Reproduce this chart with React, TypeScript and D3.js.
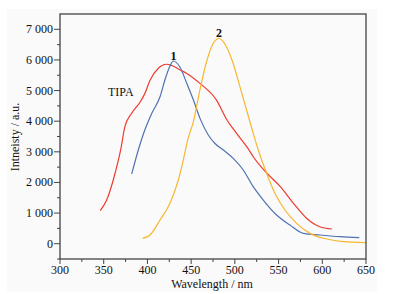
import React from "react";
import * as d3 from "d3";

const tipaW = [346, 353, 363, 370, 374, 382, 391.5, 397, 403, 412.5, 422, 426, 437.5, 445, 460, 479, 491, 502, 515, 521, 535, 552, 567, 582, 597, 611];
const tipaV = [1080, 1400, 2300, 3150, 3800, 4260, 4620, 4900, 5340, 5730, 5860, 5840, 5670, 5560, 5236, 4690, 4040, 3600, 3110, 2840, 2350, 1860, 1320, 830, 555, 480];

const s1W = [382, 390, 397, 405, 414.4, 420, 425.8, 429.6, 437.3, 445, 452.5, 460, 469.6, 477, 486.8, 498.2, 509.6, 521, 532.5, 547.7, 563, 578.3, 597.4, 620.3, 642.3];
const s1V = [2275, 3100, 3712, 4257, 4799, 5344, 5800, 5965, 5760, 5236, 4700, 4100, 3550, 3280, 3060, 2785, 2406, 1861, 1426, 937, 610, 337, 284, 228, 195];

const s2W = [394.5, 403, 414.4, 425.8, 435.3, 441, 446, 452.5, 460, 467.7, 475.3, 481.8, 490.4, 498, 505.8, 513.4, 521, 526.8, 536.3, 545.8, 557.3, 570.6, 586, 605, 624, 649];
const s2V = [176, 284, 773, 1318, 2079, 2732, 3385, 3980, 5018, 5950, 6543, 6700, 6433, 5890, 5127, 4365, 3603, 3059, 2298, 1645, 1100, 665, 337, 153, 65, 32];

const xTicks = [300, 350, 400, 450, 500, 550, 600, 650];
const yTicks = [0, 1000, 2000, 3000, 4000, 5000, 6000, 7000];
const yTickLabels = ["0", "1 000", "2 000", "3 000", "4 000", "5 000", "6 000", "7 000"];

const series = [
  { w: tipaW, v: tipaV, color: "#ee3b2e" },
  { w: s1W, v: s1V, color: "#4f72b0" },
  { w: s2W, v: s2V, color: "#f7b731" },
];

export default function App() {
  const W = 394, H = 294;
  const L = 60, R = 366, T = 14, B = 259;
  const x = d3.scaleLinear().domain([300, 650]).range([L, R]);
  const y = d3.scaleLinear().domain([-500, 7500]).range([B, T]);
  const line = d3.line<[number, number]>().x(d => x(d[0])).y(d => y(d[1])).curve(d3.curveMonotoneX);
  const xMinor = d3.range(325, 650, 50);
  const yMinor = d3.range(-500, 7500, 1000);
  const ff = "'Times New Roman', 'Liberation Serif', serif";
  return (
    <svg width={W} height={H} style={{ position: "absolute", left: 0, top: 0 }}>
      <rect x={0} y={0} width={W} height={H} fill="#fff" />
      <rect x={7} y={9} width={370} height={283} fill="#fafafa" />
      {series.map((s, i) => (
        <path key={i} d={line(s.w.map((w, j) => [w, s.v[j]] as [number, number])) || ""} fill="none" stroke={s.color} strokeWidth={1.2} />
      ))}
      <rect x={L} y={T} width={R - L} height={B - T} fill="none" stroke="#444" strokeWidth={1.3} />
      <g style={{ fontFamily: ff }} fontSize={12} fill="#111">
        {xTicks.map(t => (
          <g key={t}>
            <line x1={x(t)} x2={x(t)} y1={B} y2={B + 5} stroke="#444" />
            <text x={x(t)} y={274} textAnchor="middle">{t}</text>
          </g>
        ))}
        {xMinor.map(t => <line key={t} x1={x(t)} x2={x(t)} y1={B} y2={B + 3} stroke="#444" />)}
        {yTicks.map((t, i) => (
          <g key={t}>
            <line x1={L - 6} x2={L} y1={y(t)} y2={y(t)} stroke="#444" />
            <text x={L - 7} y={y(t) + 4} textAnchor="end">{yTickLabels[i]}</text>
          </g>
        ))}
        {yMinor.map(t => <line key={t} x1={L - 3} x2={L} y1={y(t)} y2={y(t)} stroke="#444" />)}
        <text x={212} y={288} textAnchor="middle">Wavelength / nm</text>
        <text transform="translate(19,137) rotate(-90)" textAnchor="middle">Intneisty / a.u.</text>
        <text x={108} y={96}>TIPA</text>
        <text x={173.5} y={60} fontWeight="bold" textAnchor="middle">1</text>
        <text x={219} y={37} fontWeight="bold" textAnchor="middle">2</text>
      </g>
    </svg>
  );
}
